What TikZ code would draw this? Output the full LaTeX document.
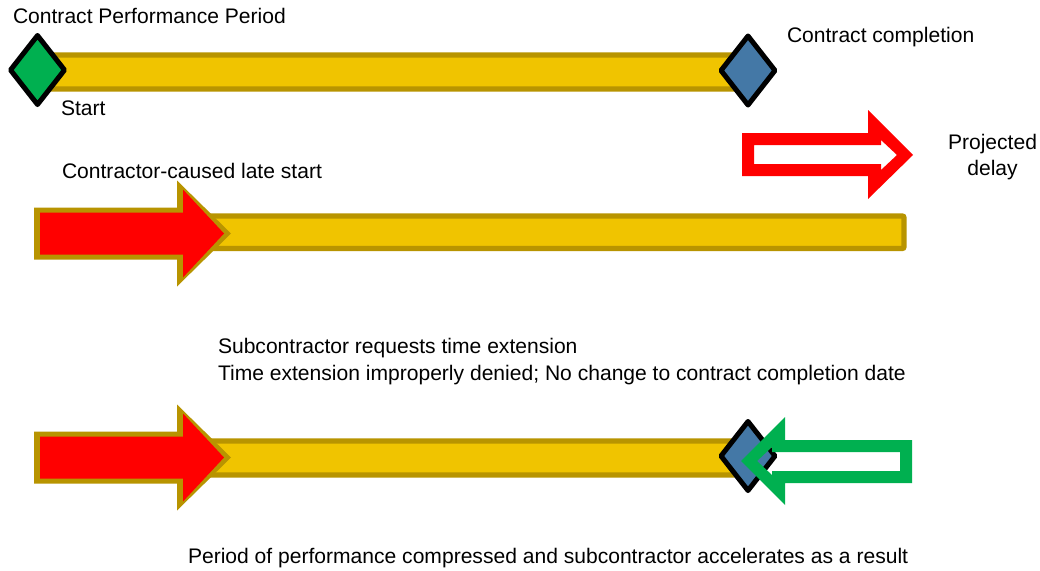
\documentclass[tikz,border=0pt]{standalone}
\usepackage{fontspec}
\setmainfont{Liberation Sans}
\definecolor{goldfill}{RGB}{240,196,0}
\definecolor{goldline}{RGB}{184,148,0}
\definecolor{msgreen}{RGB}{0,176,80}
\definecolor{msblue}{RGB}{68,120,166}
\definecolor{msred}{RGB}{255,0,0}
\begin{document}
\begin{tikzpicture}[x=0.75pt,y=-0.75pt,
  lbl/.style={inner sep=0pt,outer sep=0pt,font=\fontsize{15.8}{19}\selectfont,text=black},
  barbox/.style={fill=goldfill,draw=goldline,line width=4.1pt,rounded corners=1.5pt},
  milestone/.style={draw=black,line width=3.75pt,line join=round},
  hollowred/.style={fill=msred,even odd rule},
  hollowgreen/.style={fill=msgreen,even odd rule}]
\useasboundingbox[fill=white] (0,0) rectangle (1040,571);

% ---- Row 1 ----
\draw[barbox] (37,55) rectangle (748,89);
\draw[milestone,fill=msgreen] (10.5,70) -- (37.5,35.5) -- (64.5,70) -- (37.5,104.5) -- cycle;
\draw[milestone,fill=msblue] (721,70.5) -- (748,36) -- (775,70.5) -- (748,105) -- cycle;

% projected delay arrow (hollow red)
\fill[hollowred] (742,133) -- (868,133) -- (868,110) -- (913,155) -- (868,199) -- (868,176) -- (742,176) -- cycle
  (754,145) -- (881,145) -- (881,140) -- (897,155) -- (881,170) -- (881,164) -- (754,164) -- cycle;

% ---- Row 2 ----
\draw[barbox] (180,216) rectangle (904,248.5);
\begin{scope}[yshift=-0.75*233.5pt]
\fill[goldline] (34,-26) -- (177,-26) -- (177,-53) -- (231,0) -- (177,53) -- (177,26) -- (34,26) -- cycle;
\fill[msred] (40,-21) -- (183,-21) -- (183,-44) -- (224,0) -- (183,44) -- (183,21) -- (40,21) -- cycle;
\end{scope}

% ---- Row 3 ----
\draw[barbox] (180,441) rectangle (748,475);
\begin{scope}[yshift=-0.75*457.5pt]
\fill[goldline] (34,-26) -- (177,-26) -- (177,-53) -- (231,0) -- (177,53) -- (177,26) -- (34,26) -- cycle;
\fill[msred] (40,-21) -- (183,-21) -- (183,-44) -- (224,0) -- (183,44) -- (183,21) -- (40,21) -- cycle;
\end{scope}
\draw[milestone,fill=msblue] (721,456) -- (748,421.5) -- (775,456) -- (748,490.5) -- cycle;
\fill[hollowgreen] (912,440) -- (785,440) -- (785,417) -- (741,461) -- (785,505) -- (785,483) -- (912,483) -- cycle
  (900,452) -- (772,452) -- (772,447) -- (757,461) -- (772,475) -- (772,471) -- (900,471) -- cycle;

% ---- Labels ----
\node[lbl,anchor=base west] (period) at (13,23) {Contract Performance Period};
\node[lbl,anchor=base west] (start) at (61,115.5) {Start};
\node[lbl,anchor=base west] (completion) at (787,42) {Contract completion};
\node[lbl,anchor=base] (projected) at (992.5,149.5) {Projected};
\node[lbl,anchor=base] (delay) at (992.5,175) {delay};
\node[lbl,anchor=base west] (late) at (62,178) {Contractor-caused late start};
\node[lbl,anchor=base west] (request) at (218,353) {Subcontractor requests time extension};
\node[lbl,anchor=base west] (denied) at (218,380) {Time extension improperly denied; No change to contract completion date};
\node[lbl,anchor=base west] (compressed) at (188,563) {Period of performance compressed and subcontractor accelerates as a result};
\end{tikzpicture}
\end{document}
